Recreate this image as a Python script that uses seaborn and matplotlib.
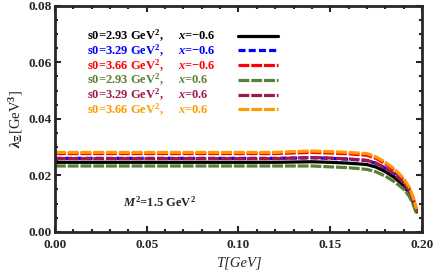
import numpy as np
import pandas as pd
import matplotlib
matplotlib.use("Agg")
import matplotlib.pyplot as plt
from matplotlib.ticker import MultipleLocator, FormatStrFormatter
import seaborn as sns

# temperature grid (GeV) and the six curves
T = [0.0, 0.05, 0.10, 0.12, 0.13, 0.14, 0.15, 0.16, 0.17, 0.175, 0.18, 0.185, 0.19, 0.193, 0.195, 0.197]

lam_293_m = [0.0246, 0.0246, 0.0246, 0.0246, 0.0247, 0.0248, 0.0246, 0.0243, 0.0238, 0.0229, 0.0213, 0.0192, 0.0163, 0.0136, 0.0108, 0.0070]
lam_329_m = [0.0260, 0.0260, 0.0260, 0.0260, 0.0261, 0.0262, 0.0260, 0.0257, 0.0252, 0.0242, 0.0225, 0.0203, 0.0173, 0.0145, 0.0116, 0.0074]
lam_366_m = [0.0277, 0.0277, 0.0277, 0.0277, 0.0279, 0.0281, 0.0279, 0.0276, 0.0271, 0.0260, 0.0241, 0.0217, 0.0184, 0.0153, 0.0121, 0.0077]
lam_293_p = [0.0233, 0.0233, 0.0233, 0.0233, 0.0233, 0.0233, 0.0230, 0.0227, 0.0221, 0.0212, 0.0197, 0.0177, 0.0151, 0.0126, 0.0100, 0.0065]
lam_329_p = [0.0259, 0.0259, 0.0259, 0.0259, 0.0261, 0.0263, 0.0261, 0.0258, 0.0253, 0.0243, 0.0226, 0.0204, 0.0174, 0.0146, 0.0117, 0.0075]
lam_366_p = [0.0281, 0.0281, 0.0281, 0.0281, 0.0284, 0.0286, 0.0284, 0.0281, 0.0277, 0.0265, 0.0246, 0.0222, 0.0189, 0.0158, 0.0125, 0.0080]

labels = [
    r"s0=2.93 GeV$^{2}$,     $x$=$-$0.6",
    r"s0=3.29 GeV$^{2}$,     $x$=$-$0.6",
    r"s0=3.66 GeV$^{2}$,     $x$=$-$0.6",
    r"s0=2.93 GeV$^{2}$,     $x$=0.6",
    r"s0=3.29 GeV$^{2}$,     $x$=0.6",
    r"s0=3.66 GeV$^{2}$,     $x$=0.6",
]
series = [lam_293_m, lam_329_m, lam_366_m, lam_293_p, lam_329_p, lam_366_p]
colors = ["black", "#0000ff", "#ff0000", "#5b7f34", "#9e1a48", "#ff9a00"]
dashes = [None, (2.2, 1.0), (3.4, 0.6), (3.4, 0.6), (3.4, 0.6), (3.4, 0.6)]

sns.set_style("ticks")
plt.rcParams["font.family"] = ["Liberation Serif", "DejaVu Serif"]
plt.rcParams["font.weight"] = "bold"
plt.rcParams["mathtext.fontset"] = "custom"
plt.rcParams["mathtext.rm"] = "Liberation Serif:bold"
plt.rcParams["mathtext.it"] = "Liberation Serif:italic:bold"
plt.rcParams["mathtext.bf"] = "Liberation Serif:bold"

fig = plt.figure(figsize=(4.36, 2.75), dpi=100)
ax = fig.add_axes([0.126, 0.157, 0.842, 0.822])

for vals, lab, col, d in zip(series, labels, colors, dashes):
    df = pd.DataFrame({"T": T, "lam": vals})
    sns.lineplot(data=df, x="T", y="lam", ax=ax, color=col, lw=2.3, label=lab)
    line = ax.get_lines()[-1]
    if d is not None:
        line.set_dashes(d)

ax.set_xlim(0, 0.2)
ax.set_ylim(0, 0.08)
ax.xaxis.set_major_locator(MultipleLocator(0.05))
ax.xaxis.set_minor_locator(MultipleLocator(0.01))
ax.yaxis.set_major_locator(MultipleLocator(0.02))
ax.yaxis.set_minor_locator(MultipleLocator(0.005))
ax.xaxis.set_major_formatter(FormatStrFormatter("%.2f"))
ax.yaxis.set_major_formatter(FormatStrFormatter("%.2f"))
ax.tick_params(which="both", direction="in", top=True, right=True, width=1.5)
ax.tick_params(which="major", length=4, labelsize=9.5)
ax.tick_params(axis="x", which="major", pad=5)
ax.tick_params(axis="y", which="major", pad=2.5)
ax.tick_params(which="minor", length=2)
plt.setp(ax.get_xticklabels() + ax.get_yticklabels(), fontweight="bold")
for sp in ax.spines.values():
    sp.set_linewidth(2)

ax.set_xlabel("T[GeV]", fontsize=10.5, fontweight="normal", fontstyle="italic", labelpad=4)
ax.set_ylabel(r"$\lambda_{\Xi}$[GeV$^{3}$]", fontsize=10.5, labelpad=2)

ax.text(0.185, 0.13, r"$M^{2}$=1.5 GeV$^{2}$", transform=ax.transAxes,
        fontsize=9, va="center")

# legend: sample lines on the right of the labels; a second legend draws
# the labels left-aligned over the hidden text of the first one
handles, _ = ax.get_legend_handles_labels()
leg_kw = dict(loc="upper left", bbox_to_anchor=(0.071, 0.93), frameon=False,
              fontsize=9, labelspacing=-0.12, borderpad=0)
leg1 = ax.legend(handles, labels, markerfirst=False, handlelength=3.2,
                 handletextpad=1.8, **leg_kw)
for t in leg1.get_texts():
    t.set_visible(False)
ax.add_artist(leg1)
leg2 = ax.legend(handles, labels, markerfirst=True, handlelength=0,
                 handletextpad=0, labelcolor="linecolor", **leg_kw)
for h in leg2.legend_handles:
    h.set_visible(False)

fig.savefig("out.png", dpi=100)
